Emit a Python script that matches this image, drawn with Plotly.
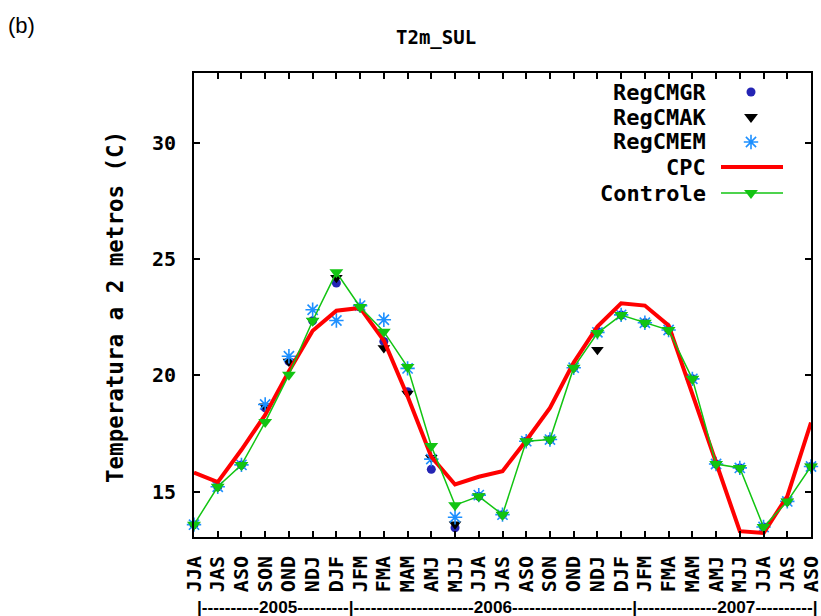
import plotly.graph_objects as go

# ---------------- data ----------------
labels = ["JJA", "JAS", "ASO", "SON", "OND", "NDJ", "DJF", "JFM", "FMA", "MAM", "AMJ", "MJJ",
          "JJA", "JAS", "ASO", "SON", "OND", "NDJ", "DJF", "JFM", "FMA", "MAM", "AMJ", "MJJ",
          "JJA", "JAS", "ASO"]

controle = [13.58, 15.21, 16.15, 17.99, 20.03, 22.35, 24.43, 22.94, 21.88, 20.36, 16.96, 14.42,
            14.80, 14.01, 17.17, 17.24, 20.33, 21.82, 22.59, 22.26, 21.95, 19.85, 16.19, 16.02,
            13.48, 14.58, 16.08]

cpc = [15.82, 15.41, 16.80, 18.30, 20.18, 21.92, 22.78, 22.90, 21.50, 19.10, 16.50, 15.31,
       15.64, 15.88, 17.20, 18.60, 20.55, 22.10, 23.10, 23.00, 22.15, 19.20, 16.35, 13.30,
       13.22, 14.80, 17.97]

regcmgr = [13.58, 15.21, 16.15, 18.60, 20.60, 22.35, 23.97, 22.94, 21.46, 19.30, 15.96, 13.45,
           14.80, 14.01, 17.17, 17.24, 20.33, 21.90, 22.59, 22.26, 21.95, 19.85, 16.19, 16.02,
           13.48, 14.58, 16.08]

regcmak = [13.58, 15.21, 16.15, 18.67, 20.60, 22.35, 24.20, 22.94, 21.18, 19.22, 16.46, 13.60,
           14.80, 14.01, 17.17, 17.24, 20.33, 21.10, 22.59, 22.26, 21.95, 19.85, 16.19, 16.02,
           13.48, 14.58, 16.08]

regcmem = [13.58, 15.21, 16.15, 18.75, 20.82, 22.82, 22.36, 23.00, 22.39, 20.30, 16.40, 13.90,
           14.85, 14.01, 17.17, 17.24, 20.33, 21.85, 22.60, 22.26, 21.95, 19.85, 16.19, 16.02,
           13.48, 14.58, 16.08]

yticks = [15, 20, 25, 30]
series_names = ["RegCMGR", "RegCMAK", "RegCMEM", "CPC", "Controle"]
title_text = "T2m_SUL"
ytitle = "Temperatura a 2 metros (C)"
year_bar = "|" + "-" * 10 + "2005" + "-" * 9 + "|" + "-" * 21 + "2006" + "-" * 21 + "|" + "-" * 14 + "2007" + "-" * 10 + "|"

# ---------------- styling ----------------
W, H = 821, 616
L, R, T, B = 194, 811, 73, 537
MONO = dict(family="DejaVu Sans Mono", size=19, color="black", weight="bold")
GREEN = "#12c412"
RED = "#ff0000"
NAVY = "#2424b4"
SKY = "#1e90ff"


def px(x):
    return (x - L) / (R - L)


def py(y):
    return (B - y) / (B - T)


x = list(range(len(labels)))

fig = go.Figure()
fig.add_trace(go.Scatter(x=x, y=regcmgr, mode="markers", name=series_names[0], cliponaxis=False,
                         marker=dict(symbol="circle", size=9, color=NAVY), showlegend=False))
fig.add_trace(go.Scatter(x=x, y=regcmak, mode="markers", name=series_names[1], cliponaxis=False,
                         marker=dict(symbol="triangle-down", size=11, color="black"), showlegend=False))
fig.add_trace(go.Scatter(x=x, y=regcmem, mode="markers", name=series_names[2], cliponaxis=False,
                         marker=dict(symbol="asterisk-open", size=12, color=SKY,
                                     line=dict(color=SKY, width=1.6)),
                         showlegend=False))
fig.add_trace(go.Scatter(x=x, y=cpc, mode="lines", name=series_names[3], cliponaxis=False,
                         line=dict(color=RED, width=4), showlegend=False))
fig.add_trace(go.Scatter(x=x, y=controle, mode="lines+markers", name=series_names[4], cliponaxis=False,
                         line=dict(color=GREEN, width=1.5),
                         marker=dict(symbol="triangle-down", size=12, color=GREEN), showlegend=False))

# ---- manual gnuplot-style key (text right, sample left->right), pixel coords on overlay axes ----
key_rows = [92, 117, 142, 167, 193]
sx0, sxm, sx1 = 721, 751, 783
fig.add_trace(go.Scatter(x=[sxm], y=[key_rows[0]], xaxis="x2", yaxis="y2", mode="markers", showlegend=False,
                         marker=dict(symbol="circle", size=9, color=NAVY), hoverinfo="skip"))
fig.add_trace(go.Scatter(x=[sxm], y=[key_rows[1]], xaxis="x2", yaxis="y2", mode="markers", showlegend=False,
                         marker=dict(symbol="triangle-down", size=12, color="black"), hoverinfo="skip"))
fig.add_trace(go.Scatter(x=[sxm], y=[key_rows[2]], xaxis="x2", yaxis="y2", mode="markers", showlegend=False,
                         marker=dict(symbol="asterisk-open", size=12, color=SKY,
                                     line=dict(color=SKY, width=1.6)),
                         hoverinfo="skip"))
fig.add_trace(go.Scatter(x=[sx0, sx1], y=[key_rows[3]] * 2, xaxis="x2", yaxis="y2", mode="lines",
                         showlegend=False, line=dict(color=RED, width=4), hoverinfo="skip"))
fig.add_trace(go.Scatter(x=[sx0, sx1], y=[key_rows[4]] * 2, xaxis="x2", yaxis="y2", mode="lines",
                         showlegend=False, line=dict(color=GREEN, width=1.5), hoverinfo="skip"))
fig.add_trace(go.Scatter(x=[sxm], y=[key_rows[4]], xaxis="x2", yaxis="y2", mode="markers", showlegend=False,
                         marker=dict(symbol="triangle-down", size=12, color=GREEN), hoverinfo="skip"))

annotations = []
for name, yy in zip(series_names, key_rows):
    annotations.append(dict(text=name, xref="paper", yref="paper", x=px(708), y=py(yy),
                            xanchor="right", yanchor="middle", showarrow=False,
                            font=dict(MONO, size=22)))

annotations.append(dict(text=title_text, xref="paper", yref="paper", x=px(436), y=py(38),
                        xanchor="center", yanchor="middle", showarrow=False, font=dict(MONO, size=19)))
annotations.append(dict(text=ytitle, xref="paper", yref="paper", x=px(115), y=py(307),
                        xanchor="center", yanchor="middle", textangle=-90, showarrow=False,
                        font=dict(MONO, size=22.5)))
annotations.append(dict(text="(b)", xref="paper", yref="paper", x=px(6), y=py(25),
                        xanchor="left", yanchor="middle", showarrow=False,
                        font=dict(family="Liberation Sans", size=22, color="black")))
annotations.append(dict(text=year_bar, xref="paper", yref="paper", x=px(507), y=py(595),
                        xanchor="center", yanchor="top", showarrow=False,
                        font=dict(family="Liberation Sans", size=17.2, color="black", weight="bold")))

fig.update_layout(
    width=W, height=H,
    margin=dict(l=L, r=W - R, t=T, b=H - B, pad=0),
    paper_bgcolor="white", plot_bgcolor="white",
    showlegend=False,
    annotations=annotations,
    xaxis=dict(range=[0, len(labels) - 1], tickmode="array", tickvals=x, ticktext=labels,
               tickangle=-90, ticks="inside", ticklen=6, tickwidth=1.5, tickcolor="black",
               showline=True, linecolor="black", linewidth=2, mirror="ticks", automargin=False,
               ticklabeloverflow="allow",
               showgrid=False, zeroline=False, tickfont=dict(MONO, size=20), ticklabelstandoff=9),
    yaxis=dict(range=[13.05, 33.0], tickmode="array", tickvals=yticks, automargin=False,
               ticks="inside", ticklen=6, tickwidth=1.5, tickcolor="black",
               showline=True, linecolor="black", linewidth=2, mirror="ticks",
               showgrid=False, zeroline=False, tickfont=dict(MONO, size=20), ticklabelstandoff=12),
    xaxis2=dict(overlaying="x", range=[L, R], visible=False, fixedrange=True),
    yaxis2=dict(overlaying="y", range=[B, T], visible=False, fixedrange=True),
)

fig.write_html("out.html")
